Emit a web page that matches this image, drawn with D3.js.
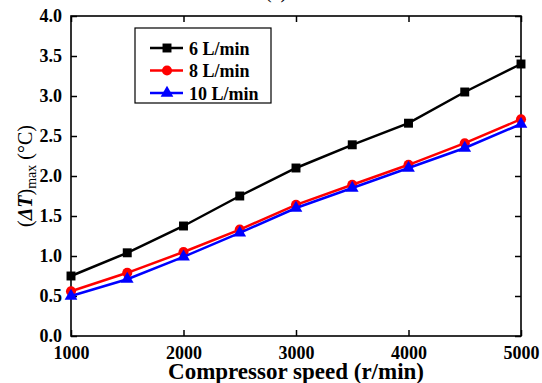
<!DOCTYPE html>
<html>
<head>
<meta charset="utf-8">
<script src="https://cdn.jsdelivr.net/npm/d3@7"></script>
<style>
  body { margin: 0; background: #fff; }
  text { font-family: "Liberation Serif", "Times New Roman", serif; }
</style>
</head>
<body>
<svg id="chart" width="542" height="383"></svg>
<script>
const speeds = [1000, 1500, 2000, 2500, 3000, 3500, 4000, 4500, 5000];
const flow6 = [0.75, 1.04, 1.375, 1.75, 2.1, 2.39, 2.66, 3.05, 3.4];
const flow8 = [0.56, 0.79, 1.05, 1.33, 1.64, 1.89, 2.14, 2.41, 2.71];
const flow10 = [0.5, 0.71, 0.99, 1.29, 1.6, 1.85, 2.1, 2.35, 2.65];
const seriesNames = ["6 L/min", "8 L/min", "10 L/min"];
const xTicks = [1000, 2000, 3000, 4000, 5000];
const yTicks = [0, 0.5, 1, 1.5, 2, 2.5, 3, 3.5, 4];

const series = [
  { name: seriesNames[0], values: flow6, color: "#000000", symbol: d3.symbolSquare, size: 80 },
  { name: seriesNames[1], values: flow8, color: "#ff0000", symbol: d3.symbolCircle, size: 80 },
  { name: seriesNames[2], values: flow10, color: "#0000ff", symbol: d3.symbolTriangle, size: 70 },
];

const margin = { top: 16, right: 21, bottom: 47, left: 71 };
const svg = d3.select("#chart");
const W = +svg.attr("width") - margin.left - margin.right;
const H = +svg.attr("height") - margin.top - margin.bottom;

const x = d3.scaleLinear().domain([1000, 5000]).range([0, W]);
const y = d3.scaleLinear().domain([0, 4]).range([H, 0]);

const g = svg.append("g").attr("transform", `translate(${margin.left},${margin.top})`);

// partial title, clipped at top
svg.append("text")
  .attr("x", margin.left + W / 2 - 20)
  .attr("y", -2)
  .attr("text-anchor", "middle")
  .style("font-size", "20px")
  .text("(a)");

// inward ticks on all sides
const styleAxis = sel => {
  sel.select(".domain").remove();
  sel.selectAll(".tick line").attr("stroke", "#000").attr("stroke-width", 1.5);
  sel.selectAll(".tick text")
    .style("font-family", "'Liberation Serif', serif")
    .style("font-weight", "bold")
    .style("font-size", "18px")
    .attr("fill", "#000");
};

g.append("g").attr("transform", `translate(0,${H})`)
  .call(d3.axisBottom(x).tickValues(xTicks).tickSize(-6).tickPadding(10).tickFormat(d3.format("d")))
  .call(styleAxis);
g.append("g")
  .call(d3.axisTop(x).tickValues(xTicks).tickSize(-6).tickFormat(""))
  .call(styleAxis);
g.append("g")
  .call(d3.axisLeft(y).tickValues(yTicks).tickSize(-6).tickPadding(9).tickFormat(d3.format(".1f")))
  .call(styleAxis);
g.append("g").attr("transform", `translate(${W},0)`)
  .call(d3.axisRight(y).tickValues(yTicks).tickSize(-6).tickFormat(""))
  .call(styleAxis);

g.append("rect")
  .attr("width", W).attr("height", H)
  .attr("fill", "none").attr("stroke", "#000").attr("stroke-width", 1.6);

const line = d3.line().x((d, i) => x(speeds[i])).y(d => y(d));

series.forEach(s => {
  g.append("path")
    .datum(s.values)
    .attr("d", line)
    .attr("fill", "none")
    .attr("stroke", s.color)
    .attr("stroke-width", 2.5);
  g.selectAll(null)
    .data(s.values)
    .enter()
    .append("path")
    .attr("d", d3.symbol().type(s.symbol).size(s.size))
    .attr("transform", (d, i) => `translate(${x(speeds[i])},${y(d)})`)
    .attr("fill", s.color);
});

// legend
const lg = svg.append("g").attr("transform", "translate(135,28)");
lg.append("rect")
  .attr("width", 136).attr("height", 75)
  .attr("fill", "#fff").attr("stroke", "#000").attr("stroke-width", 1.2);
series.forEach((s, i) => {
  const row = lg.append("g").attr("transform", `translate(0,${20 + i * 22.5})`);
  row.append("line")
    .attr("x1", 15).attr("x2", 48)
    .attr("stroke", s.color).attr("stroke-width", 2.5);
  row.append("path")
    .attr("d", d3.symbol().type(s.symbol).size(s.size))
    .attr("transform", "translate(32,0)")
    .attr("fill", s.color);
  row.append("text")
    .attr("x", 54).attr("y", 6.5)
    .style("font-weight", "bold")
    .style("font-size", "18px")
    .text(s.name);
});

// axis titles
svg.append("text")
  .attr("x", margin.left + W / 2)
  .attr("y", 379)
  .attr("text-anchor", "middle")
  .style("font-weight", "bold")
  .style("font-size", "23px")
  .text("Compressor speed (r/min)");

const yl = svg.append("text")
  .attr("transform", `translate(32,${margin.top + H / 2}) rotate(-90)`)
  .attr("text-anchor", "middle")
  .style("font-size", "20px");
yl.append("tspan").text("(");
yl.append("tspan").style("font-style", "italic").style("font-weight", "bold").text("ΔT");
yl.append("tspan").text(")");
yl.append("tspan").attr("dy", 4).style("font-size", "14px").text("max");
yl.append("tspan").attr("dy", -4).text(" (°C)");
</script>
</body>
</html>
